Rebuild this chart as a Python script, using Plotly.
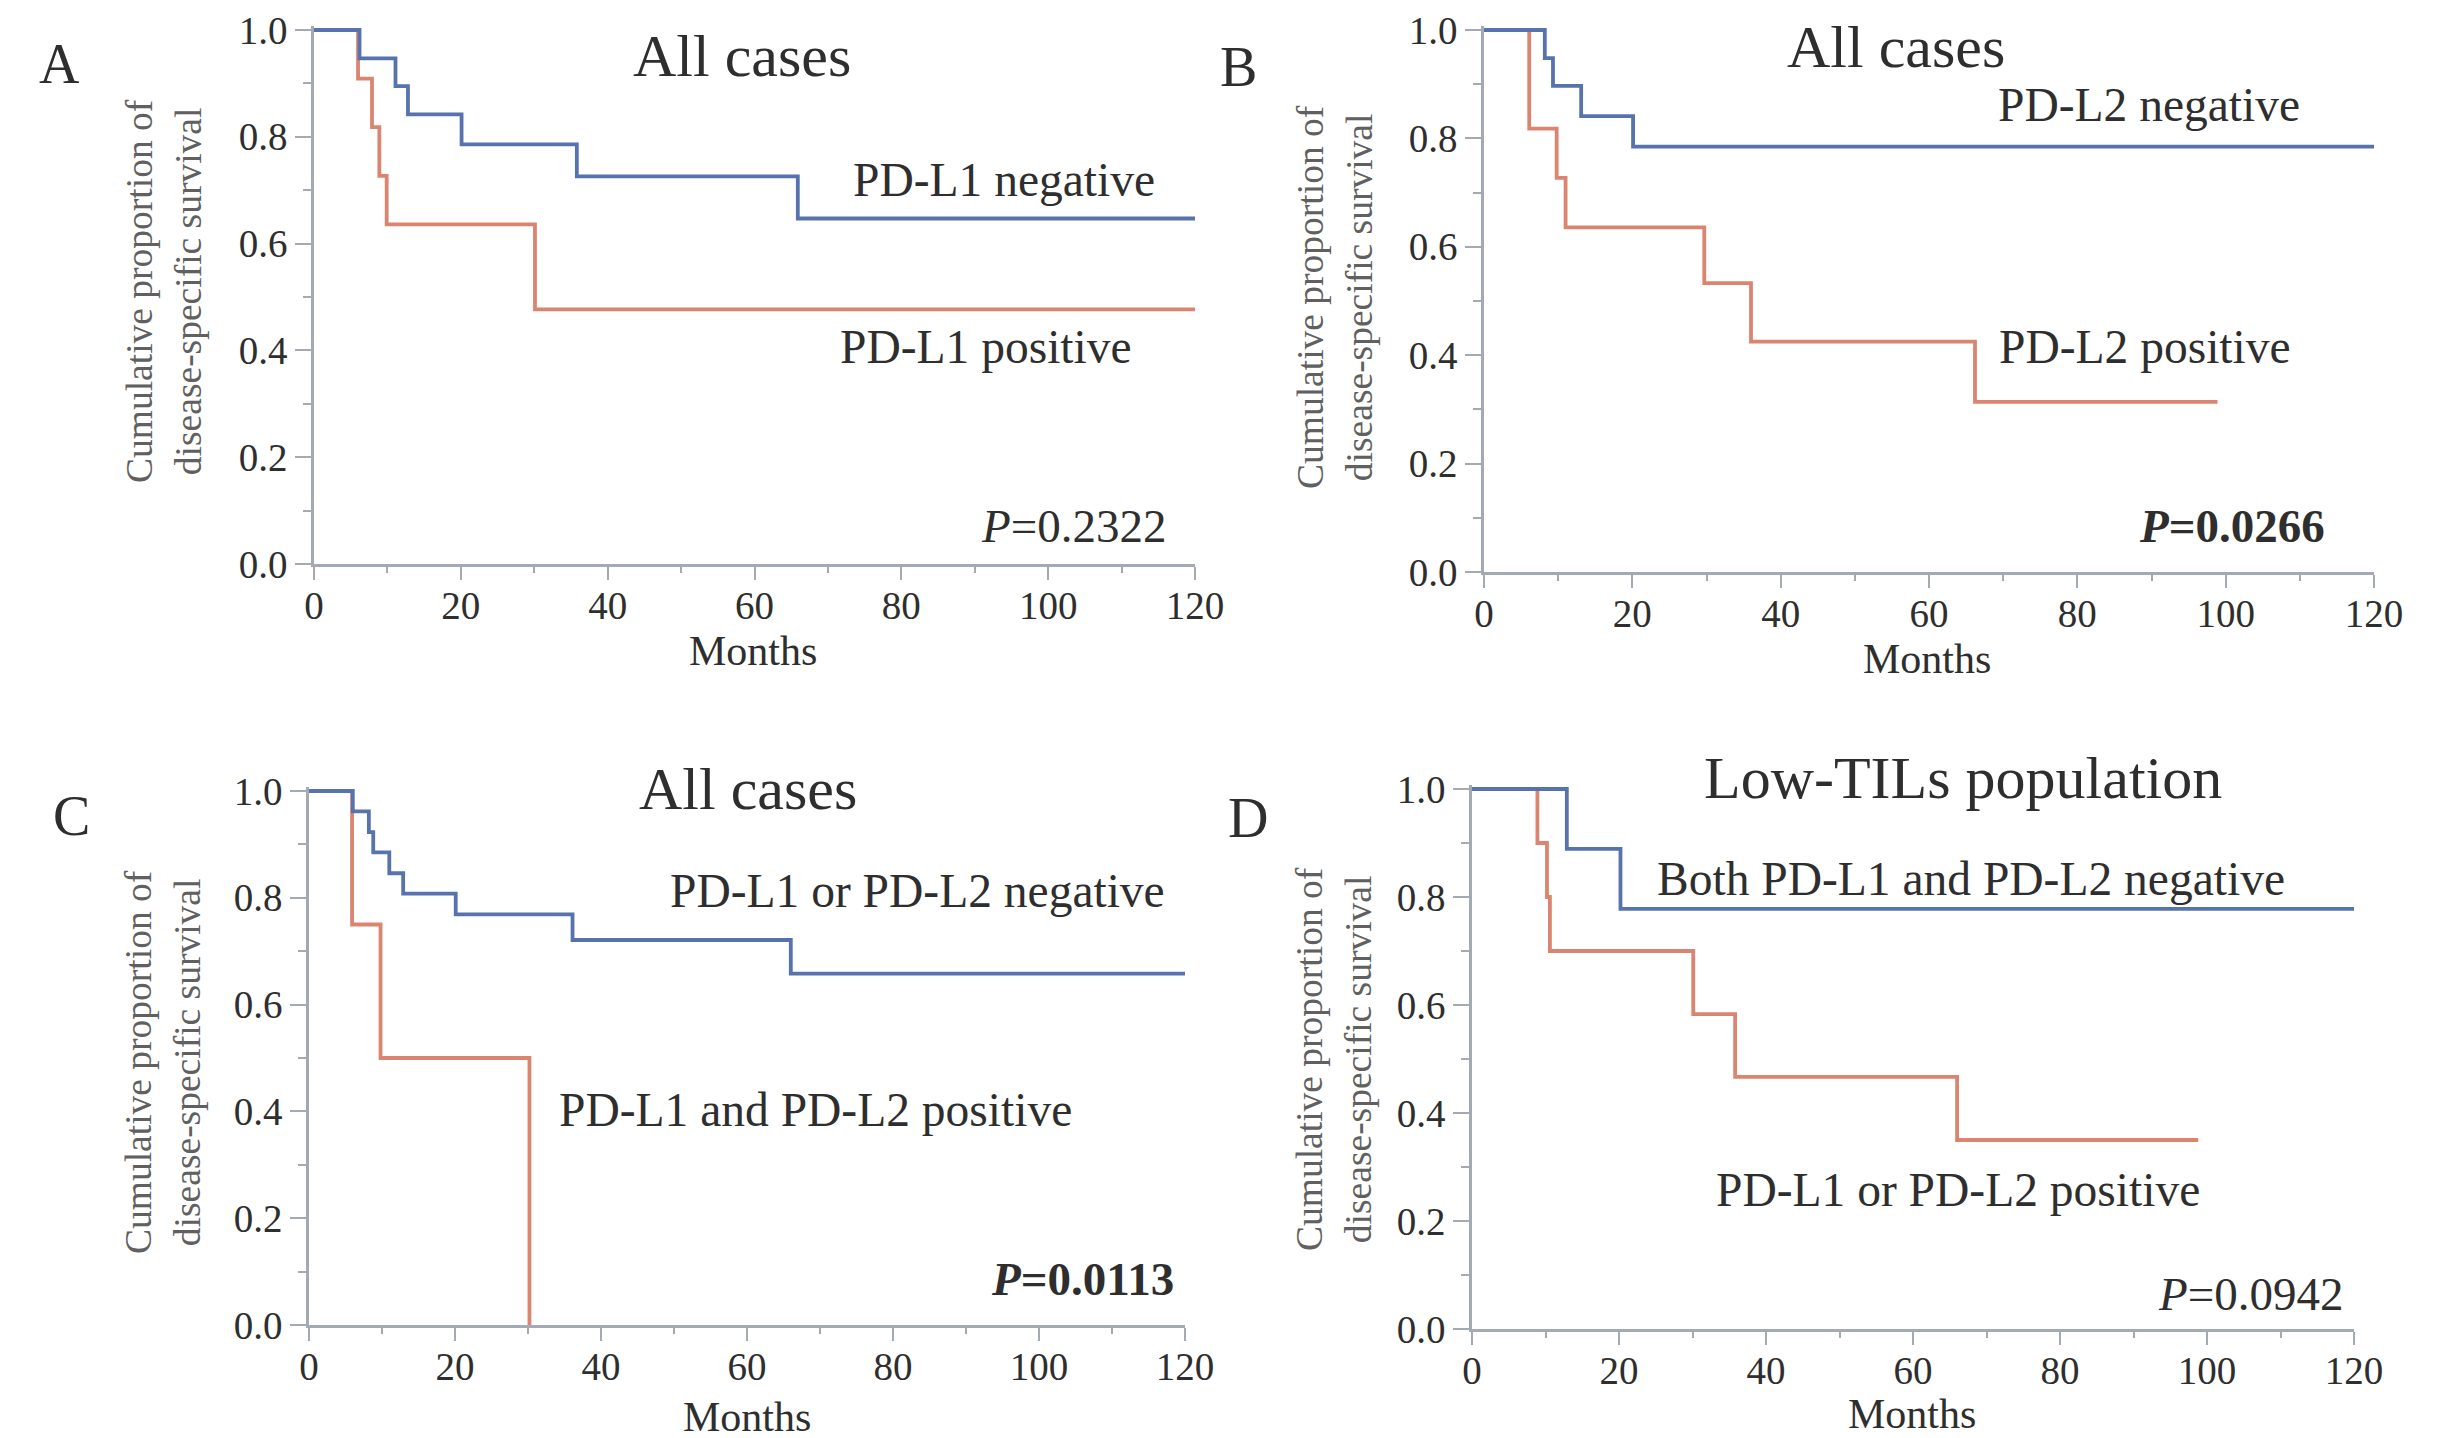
import plotly.graph_objects as go

W, H = 2449, 1438

# ---------------- data ----------------
months_ticks = [0, 20, 40, 60, 80, 100, 120]
surv_ticks = [0.0, 0.2, 0.4, 0.6, 0.8, 1.0]

a_neg_t = [0, 6.2, 11.1, 12.8, 20.1, 35.8, 65.9, 120]
a_neg_s = [1.0, 0.947, 0.895, 0.842, 0.786, 0.726, 0.647, 0.647]
a_pos_t = [0, 6.0, 7.9, 8.9, 9.9, 30.1, 120]
a_pos_s = [1.0, 0.909, 0.818, 0.727, 0.636, 0.477, 0.477]

b_neg_t = [0, 8.2, 9.3, 13.1, 20.1, 120]
b_neg_s = [1.0, 0.948, 0.897, 0.841, 0.785, 0.785]
b_pos_t = [0, 6.1, 9.8, 11.0, 29.7, 36.0, 66.2, 98.9]
b_pos_s = [1.0, 0.818, 0.727, 0.636, 0.533, 0.425, 0.314, 0.314]

c_neg_t = [0, 6.0, 8.2, 8.8, 11.0, 12.9, 20.1, 36.1, 66.0, 120]
c_neg_s = [1.0, 0.962, 0.923, 0.885, 0.846, 0.808, 0.769, 0.721, 0.658, 0.658]
c_pos_t = [0, 5.9, 9.8, 30.2]
c_pos_s = [1.0, 0.75, 0.5, 0.0]

d_neg_t = [0, 12.9, 20.2, 120]
d_neg_s = [1.0, 0.889, 0.778, 0.778]
d_pos_t = [0, 8.9, 10.2, 10.6, 30.1, 35.8, 66.0, 98.8]
d_pos_s = [1.0, 0.9, 0.8, 0.7, 0.583, 0.467, 0.35, 0.35]

panel_letters = ["A", "B", "C", "D"]
panel_titles = ["All cases", "All cases", "All cases", "Low-TILs population"]
neg_labels = ["PD-L1 negative", "PD-L2 negative", "PD-L1 or PD-L2 negative",
              "Both PD-L1 and PD-L2 negative"]
pos_labels = ["PD-L1 positive", "PD-L2 positive", "PD-L1 and PD-L2 positive",
              "PD-L1 or PD-L2 positive"]
p_values = ["0.2322", "0.0266", "0.0113", "0.0942"]
p_bold = [False, True, True, False]

# ---------------- styling / layout ----------------
BLUE = "#5773ad"
RED = "#db8470"
AXC = "#a4aab4"
TXT = "#2e2e2e"
GRAY = "#606060"
FONT = "Liberation Serif, Times New Roman, serif"

# pixel geometry of each panel: x of 0, x of 120, y of 0, y of 1.0
geom = [
    (314, 1195, 564, 30),
    (1484, 2374, 572, 30),
    (309, 1185, 1325, 791),
    (1472, 2354, 1329, 789),
]
YMAX = 1.008

# label positions in data units (x, y)
neg_pos = [(94.0, 0.719), (89.7, 0.862), (83.3, 0.813), (67.9, 0.833)]
pos_pos = [(91.5, 0.406), (89.1, 0.415), (69.4, 0.403), (66.1, 0.258)]
p_pos = [(116.3, 0.071), (113.6, 0.085), (118.8, 0.086), (118.8, 0.065)]

# paper-pixel positions for panel-level text
letter_px = [(59, 64), (1238, 67), (71, 816), (1248, 818)]
title_px = [(742, 56), (1896, 47), (748, 789), (1963, 778)]
months_px = [(753, 651), (1927, 659), (747, 1417), (1912, 1414)]
ytitle_px = [(164, 291), (1335, 297), (163, 1062), (1334, 1059)]

series = [
    (a_neg_t, a_neg_s, a_pos_t, a_pos_s),
    (b_neg_t, b_neg_s, b_pos_t, b_pos_s),
    (c_neg_t, c_neg_s, c_pos_t, c_pos_s),
    (d_neg_t, d_neg_s, d_pos_t, d_pos_s),
]


def fx(px):
    return px / W


def fy(py):
    return 1 - py / H


fig = go.Figure()
layout = {}
annotations = []

for i, (x0, x1, y0, y1) in enumerate(geom):
    k = "" if i == 0 else str(i + 1)
    unit = y0 - y1
    top_px = y0 - YMAX * unit
    layout["xaxis" + k] = dict(
        domain=[fx(x0), fx(x1)], range=[0, 120], anchor="y" + k,
        tickvals=months_ticks, ticks="outside", ticklen=13, tickwidth=2,
        tickcolor=AXC, showline=True, linecolor=AXC, linewidth=2.5,
        showgrid=False, zeroline=False, automargin=False,
        ticklabelstandoff=-8,
        minor=dict(dtick=10, tick0=0, ticks="outside", ticklen=6,
                   tickwidth=2, tickcolor=AXC, showgrid=False),
        tickfont=dict(family=FONT, size=39, color=TXT),
        fixedrange=True,
    )
    layout["yaxis" + k] = dict(
        domain=[fy(y0), fy(top_px)], range=[0, YMAX], anchor="x" + k,
        tickvals=surv_ticks, tickformat=".1f", ticks="outside", ticklen=16,
        tickwidth=2, tickcolor=AXC, showline=True, linecolor=AXC,
        linewidth=2.5, showgrid=False, zeroline=False, automargin=False,
        minor=dict(dtick=0.1, tick0=0, ticks="outside", ticklen=8,
                   tickwidth=2, tickcolor=AXC, showgrid=False),
        tickfont=dict(family=FONT, size=39, color=TXT),
        fixedrange=True,
    )

    nt, ns, pt, ps = series[i]
    fig.add_trace(go.Scatter(x=pt, y=ps, mode="lines", line_shape="hv",
                             line=dict(color=RED, width=3.8),
                             xaxis="x" + k, yaxis="y" + k,
                             showlegend=False, hoverinfo="skip"))
    fig.add_trace(go.Scatter(x=nt, y=ns, mode="lines", line_shape="hv",
                             line=dict(color=BLUE, width=3.8),
                             xaxis="x" + k, yaxis="y" + k,
                             showlegend=False, hoverinfo="skip"))

    # curve labels
    annotations.append(dict(x=neg_pos[i][0], y=neg_pos[i][1], xref="x" + k,
                            yref="y" + k, text=neg_labels[i], showarrow=False,
                            font=dict(family=FONT, size=47.5, color=TXT),
                            xanchor="center", yanchor="middle"))
    annotations.append(dict(x=pos_pos[i][0], y=pos_pos[i][1], xref="x" + k,
                            yref="y" + k, text=pos_labels[i], showarrow=False,
                            font=dict(family=FONT, size=47.5, color=TXT),
                            xanchor="center", yanchor="middle"))
    ptxt = "<i>P</i>=" + p_values[i]
    if p_bold[i]:
        ptxt = "<b>" + ptxt + "</b>"
    annotations.append(dict(x=p_pos[i][0], y=p_pos[i][1], xref="x" + k,
                            yref="y" + k, text=ptxt, showarrow=False,
                            font=dict(family=FONT, size=47, color=TXT),
                            xanchor="right", yanchor="middle"))

    # panel letters, titles, axis titles
    annotations.append(dict(x=fx(letter_px[i][0]), y=fy(letter_px[i][1]),
                            xref="paper", yref="paper", text=panel_letters[i],
                            showarrow=False,
                            font=dict(family=FONT, size=56, color=TXT),
                            xanchor="center", yanchor="middle"))
    annotations.append(dict(x=fx(title_px[i][0]), y=fy(title_px[i][1]),
                            xref="paper", yref="paper", text=panel_titles[i],
                            showarrow=False,
                            font=dict(family=FONT, size=60, color=TXT),
                            xanchor="center", yanchor="middle"))
    annotations.append(dict(x=fx(months_px[i][0]), y=fy(months_px[i][1]),
                            xref="paper", yref="paper", text="Months",
                            showarrow=False,
                            font=dict(family=FONT, size=42, color=TXT),
                            xanchor="center", yanchor="middle"))
    annotations.append(dict(x=fx(ytitle_px[i][0]), y=fy(ytitle_px[i][1]),
                            xref="paper", yref="paper",
                            text="Cumulative proportion of<br>disease-specific survival",
                            showarrow=False, textangle=-90,
                            font=dict(family=FONT, size=37.5, color=GRAY),
                            xanchor="center", yanchor="middle"))

fig.update_layout(
    width=W, height=H,
    margin=dict(l=0, r=0, t=0, b=0, pad=0, autoexpand=False),
    paper_bgcolor="white", plot_bgcolor="white",
    annotations=annotations,
    **layout,
)

fig.write_html(
    "out.html",
    config={"displayModeBar": False},
    post_script="document.body.style.margin='0';"
                "document.documentElement.style.overflow='hidden';",
)
